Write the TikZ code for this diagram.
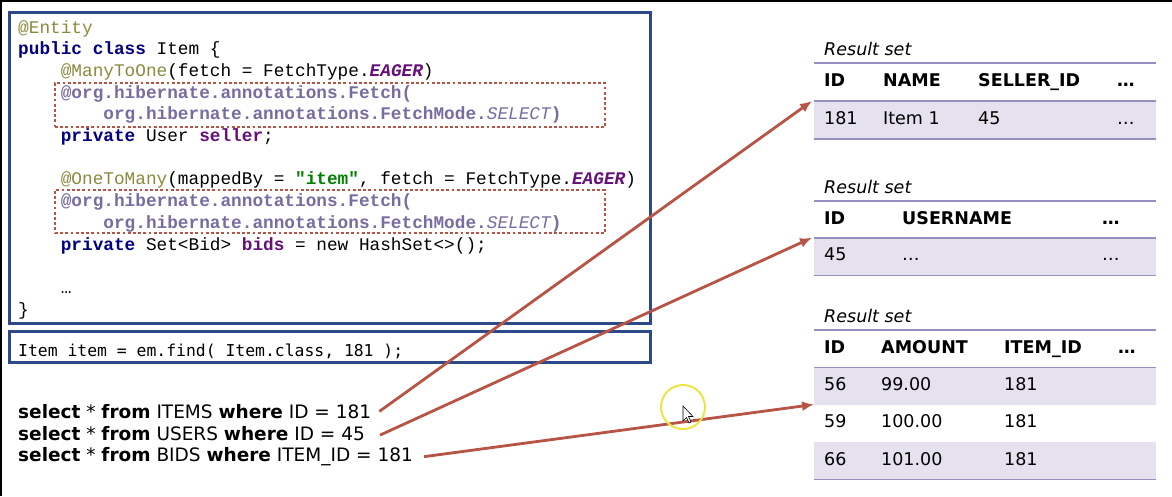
\documentclass[tikz,border=0pt]{standalone}
\usepackage{fontspec}
\usepackage{xcolor}
\usetikzlibrary{positioning,arrows.meta}

\newfontfamily\codefont{Liberation Mono}
\newfontfamily\findfont{DejaVu Sans Mono}
\newfontfamily\slidefont{DejaVu Sans}

\definecolor{boxblue}{RGB}{44,74,138}
\definecolor{linkred}{RGB}{184,84,70}
\definecolor{annotol}{RGB}{138,138,62}
\definecolor{kwnavy}{RGB}{0,0,128}
\definecolor{fldpurple}{RGB}{102,14,122}
\definecolor{strgreen}{RGB}{0,128,0}
\definecolor{hibgray}{RGB}{120,108,160}
\definecolor{rsline}{RGB}{150,144,190}
\definecolor{rsfill}{RGB}{229,225,238}
\definecolor{ringyellow}{RGB}{238,228,70}

\newcommand\jann[1]{\textcolor{annotol}{#1}}
\newcommand\jkw[1]{\textcolor{kwnavy}{\bfseries #1}}
\newcommand\jfld[1]{\textcolor{fldpurple}{\bfseries #1}}
\newcommand\jenum[1]{\textcolor{fldpurple}{\bfseries\itshape #1}}
\newcommand\jstr[1]{\textcolor{strgreen}{\bfseries #1}}
\newcommand\jhib[1]{\textcolor{hibgray}{\bfseries #1}}
\newcommand\jind[1]{\hphantom{#1}}

\begin{document}
\begin{tikzpicture}[
    x=1pt, y=-1pt,
    codebox/.style={rectangle, draw=boxblue, line width=3pt, inner sep=0pt},
    hlbox/.style={rectangle, draw=linkred, line width=2.8pt, dash pattern=on 2.8pt off 2.4pt, inner sep=0pt},
    codetext/.style={anchor=base west, inner sep=0pt, text width=630pt, align=left,
        font=\codefont\fontsize{17.75}{21.7}\selectfont},
    sqlline/.style={anchor=base west, inner sep=0pt, font=\slidefont\fontsize{18.5}{21.5}\selectfont},
    rstitle/.style={anchor=base west, inner sep=0pt, font=\slidefont\itshape\fontsize{17.5}{21}\selectfont},
    rshead/.style={anchor=base west, inner sep=0pt, font=\slidefont\bfseries\fontsize{17.5}{21}\selectfont},
    rscell/.style={anchor=base west, inner sep=0pt, font=\slidefont\fontsize{17.5}{21}\selectfont},
    rsrule/.style={draw=rsline, line width=1.6pt},
    arrow/.style={-{Latex[length=12pt,width=10pt]}, draw=linkred, line width=2.8pt}
]
\useasboundingbox[fill=white] (0,0) rectangle (1172,496);
\draw[line width=2pt] (0,1) -- (1172,1);
\draw[line width=2pt] (1,0) -- (1,496);

% entity mapping
\node[codebox, minimum width=641pt, minimum height=311pt] (code) at (329.5,167.5) {};
\node[hlbox, minimum width=550pt, minimum height=44pt] (hl1) at (330,105) {};
\node[hlbox, minimum width=550pt, minimum height=43pt] (hl2) at (330,211.5) {};
\node[codetext] (codelines) at (18,33) {\spaceskip=0.6em\xspaceskip=0.6em\relax
\jann{@Entity}\\
\jkw{public class} Item \{\\
\jind{0000}\jann{@ManyToOne}(fetch = FetchType.\jenum{EAGER})\\
\jind{0000}\jhib{@org.hibernate.annotations.Fetch(}\\
\jind{00000000}\jhib{org.hibernate.annotations.FetchMode.{\mdseries\itshape SELECT})}\\
\jind{0000}\jkw{private} User \jfld{seller};\\
\mbox{}\\
\jind{0000}\jann{@OneToMany}(mappedBy = \jstr{"item"}, fetch = FetchType.\jenum{EAGER})\\
\jind{0000}\jhib{@org.hibernate.annotations.Fetch(}\\
\jind{00000000}\jhib{org.hibernate.annotations.FetchMode.{\mdseries\itshape SELECT})}\\
\jind{0000}\jkw{private} Set<Bid> \jfld{bids} = new HashSet<>();\\
\mbox{}\\
\jind{0000}…\\
\}};

\node[codebox, minimum width=641pt, minimum height=31pt] (find) at (329.5,346.5) {};
\node[anchor=base west, inner sep=0pt, font=\findfont\fontsize{16.4}{20}\selectfont] (findline) at (18,356) {Item item = em.find( Item.class, 181 );};

% generated statements
\node[sqlline] (q1) at (18,418.3) {\textbf{select} * \textbf{from} ITEMS \textbf{where} ID = 181};
\node[sqlline] (q2) at (18,440) {\textbf{select} * \textbf{from} USERS \textbf{where} ID = 45};
\node[sqlline] (q3) at (18,461.5) {\textbf{select} * \textbf{from} BIDS \textbf{where} ITEM\_ID = 181};

% result set: items
\fill[rsfill] (814,101) rectangle (1156,139);
\draw[rsrule] (814,63) -- (1156,63);
\draw[rsrule] (814,101) -- (1156,101);
\draw[rsrule] (814,139) -- (1156,139);
\node[rstitle] (t1title) at (824,55.5) {Result set};
\node[rshead] (t1c1) at (824,86.6) {ID};
\node[rshead] (t1c2) at (883,86.6) {NAME};
\node[rshead] (t1c3) at (978,86.6) {SELLER\_ID};
\node[rshead] (t1c4) at (1117,86.6) {…};
\node[rscell] (t1r1) at (824,124) {181};
\node[rscell] (t1r2) at (883,124) {Item 1};
\node[rscell] (t1r3) at (978,124) {45};
\node[rscell] (t1r4) at (1117,124) {…};
\coordinate (t1in) at (812,101);

% result set: users
\fill[rsfill] (814,237.7) rectangle (1156,275.3);
\draw[rsrule] (814,200.7) -- (1156,200.7);
\draw[rsrule] (814,237.7) -- (1156,237.7);
\draw[rsrule] (814,275.3) -- (1156,275.3);
\node[rstitle] (t2title) at (824,193.2) {Result set};
\node[rshead] (t2c1) at (824,224.3) {ID};
\node[rshead] (t2c2) at (902,224.3) {USERNAME};
\node[rshead] (t2c3) at (1102,224.3) {…};
\node[rscell] (t2r1) at (824,260) {45};
\node[rscell] (t2r2) at (902,260) {…};
\node[rscell] (t2r3) at (1102,260) {…};
\coordinate (t2in) at (812,237.7);

% result set: bids
\fill[rsfill] (814,367.3) rectangle (1156,404.8);
\fill[rsfill] (814,442.3) rectangle (1156,479.3);
\draw[rsrule] (814,330) -- (1156,330);
\draw[rsrule] (814,367.3) -- (1156,367.3);
\draw[rsrule] (814,479.3) -- (1156,479.3);
\node[rstitle] (t3title) at (824,322.5) {Result set};
\node[rshead] (t3c1) at (824,353.6) {ID};
\node[rshead] (t3c2) at (881,353.6) {AMOUNT};
\node[rshead] (t3c3) at (1004,353.6) {ITEM\_ID};
\node[rshead] (t3c4) at (1118,353.6) {…};
\node[rscell] (t3a1) at (824,390) {56};
\node[rscell] (t3a2) at (881,390) {99.00};
\node[rscell] (t3a3) at (1004,390) {181};
\node[rscell] (t3b1) at (824,427.5) {59};
\node[rscell] (t3b2) at (881,427.5) {100.00};
\node[rscell] (t3b3) at (1004,427.5) {181};
\node[rscell] (t3d1) at (824,465) {66};
\node[rscell] (t3d2) at (881,465) {101.00};
\node[rscell] (t3d3) at (1004,465) {181};
\coordinate (t3in) at (814,404.5);

\draw[arrow] ([xshift=8pt]q1.east) -- (t1in);
\draw[arrow] ([xshift=15pt,yshift=-2pt]q2.east) -- (t2in);
\draw[arrow] ([xshift=11pt]q3.east) -- (t3in);

% pointer
\draw[ringyellow, line width=2pt] (683,407) circle (22);
\draw[fill=white, line width=0.6pt] (683,406) -- (683,421) -- (686.5,417.5) -- (689,423) -- (691,422) -- (688.5,416.5) -- (693,416.5) -- cycle;
\end{tikzpicture}
\end{document}
